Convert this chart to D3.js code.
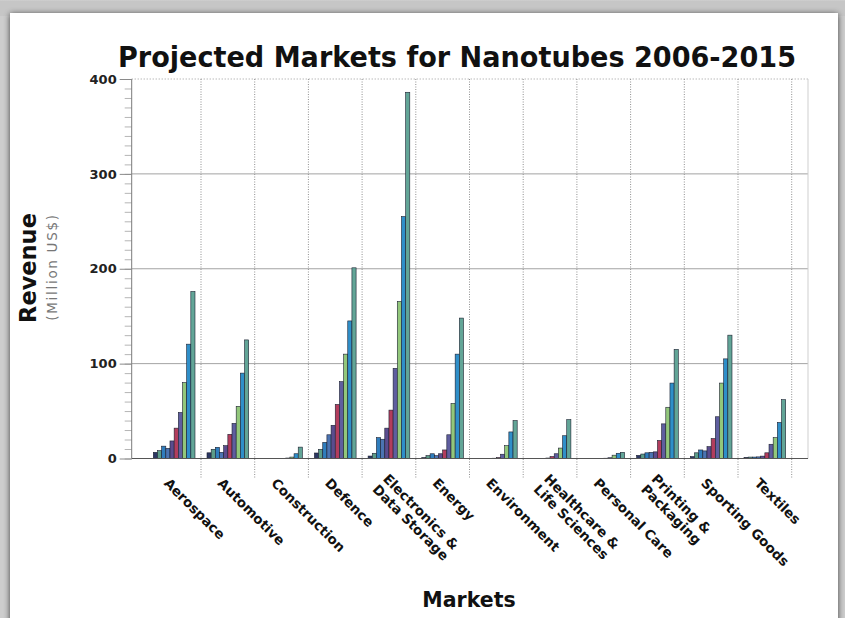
<!DOCTYPE html>
<html>
<head>
<meta charset="utf-8">
<script src="https://cdn.jsdelivr.net/npm/d3@7"></script>
<style>
  html, body { margin: 0; padding: 0; background: #d9d9d9; }
  svg { display: block; }
</style>
</head>
<body>
<script>
// Market categories (line breaks split the long labels)
const categories = [
  "Aerospace", "Automotive", "Construction", "Defence",
  "Electronics &\nData Storage", "Energy", "Environment",
  "Healthcare &\nLife Sciences", "Personal Care",
  "Printing &\nPackaging", "Sporting Goods", "Textiles"
];

// Years shown as the bars inside each market
const years = ["2006", "2007", "2008", "2009", "2010", "2011", "2012", "2013", "2014", "2015"];

// Revenue per market, million US$, one value per year 2006-2015
const aerospace    = [6.5, 8.3, 13, 10.7, 18.5, 32, 48.5, 80, 120.5, 176];
const automotive   = [6, 9.7, 11.8, 6.5, 13.5, 25.5, 37, 55, 90, 125];
const construction = [0, 0, 0, 0, 0, 0, 0.5, 1.5, 5, 12];
const defence      = [5.8, 9.7, 17, 25, 35, 57, 81, 110, 145, 201];
const electronics  = [2.6, 5.5, 22, 20.3, 32, 51, 95, 165.5, 255, 386];
const energy       = [1, 3, 5, 3, 5, 9, 25, 58, 110, 148];
const environment  = [0, 0, 0, 0, 0.3, 1, 4.5, 13.5, 28, 40];
const healthcare   = [0, 0, 0, 0, 0.5, 2, 5, 11, 24, 41];
const personalCare = [0, 0, 0, 0, 0, 0.3, 0.8, 3.5, 5.5, 6.5];
const printing     = [3.3, 4.7, 6, 6.5, 7, 19, 36.5, 54, 79.5, 115];
const sporting     = [2, 6, 9, 8, 12.5, 21, 44, 79.5, 105, 130];
const textiles     = [1.2, 1.5, 1.5, 1.7, 2.5, 6, 15, 22, 38, 62];

const revenueByMarket = [
  aerospace, automotive, construction, defence, electronics, energy,
  environment, healthcare, personalCare, printing, sporting, textiles
];

// Y axis labelled ticks
const yTicks = [0, 100, 200, 300, 400];

// Bar colour per year
const yearColors = [
  "#2c3763", "#5c9c88", "#2f7dbd", "#4b74b2", "#5a4c8e",
  "#b23d5d", "#5f5e9f", "#92c77b", "#2f8fc9", "#62a597"
];

const W = 845, H = 618;
const FONT = "'DejaVu Sans', Verdana, sans-serif";

const svg = d3.select("body").append("svg")
  .attr("width", W).attr("height", H);

// Framed panel with a soft shadow
const defs = svg.append("defs");
const sh = defs.append("filter").attr("id", "shadow")
  .attr("x", "-5%").attr("y", "-5%").attr("width", "110%").attr("height", "110%");
sh.append("feGaussianBlur").attr("in", "SourceAlpha").attr("stdDeviation", 3).attr("result", "b");
sh.append("feOffset").attr("in", "b").attr("dx", 0).attr("dy", 1).attr("result", "o");
sh.append("feComponentTransfer").attr("in", "o").attr("result", "s")
  .append("feFuncA").attr("type", "linear").attr("slope", 0.7);
const mg = sh.append("feMerge");
mg.append("feMergeNode").attr("in", "s");
mg.append("feMergeNode").attr("in", "SourceGraphic");

const topGrad = defs.append("linearGradient").attr("id", "bgGrad")
  .attr("x1", 0).attr("y1", 0).attr("x2", 0).attr("y2", 0.04);
topGrad.append("stop").attr("offset", "0%").attr("stop-color", "#e4e4e4");
topGrad.append("stop").attr("offset", "100%").attr("stop-color", "#c6c6c6");

svg.append("rect").attr("width", W).attr("height", H).attr("fill", "#cdcdcd");
svg.append("rect").attr("width", W).attr("height", 16).attr("fill", "url(#bgGrad)");
svg.append("rect")
  .attr("x", 10).attr("y", 13).attr("width", 828).attr("height", 620)
  .attr("fill", "#ffffff").attr("filter", "url(#shadow)");

// Plot geometry
const plotLeft = 131.7, plotRight = 808;
const yBottom = 458.5, yTop = 79;

const x = d3.scaleBand().domain(categories).range([147.3, 791.7]).padding(0);
const xYear = d3.scaleBand().domain(years).range([0, x.bandwidth()])
  .paddingInner(0).paddingOuter(1.44);
const y = d3.scaleLinear().domain([0, 400]).range([yBottom, yTop]);

const grid = svg.append("g");

// Horizontal grid
grid.selectAll("line.h").data(yTicks.filter(d => d > 0 && d < 400)).join("line")
  .attr("x1", plotLeft).attr("x2", plotRight)
  .attr("y1", d => y(d)).attr("y2", d => y(d))
  .attr("stroke", "#a3a3a3").attr("stroke-width", 1);
grid.append("line")
  .attr("x1", plotLeft).attr("x2", plotRight)
  .attr("y1", y(400)).attr("y2", y(400))
  .attr("stroke", "#9a9a9a").attr("stroke-dasharray", "1,2");

// Right border of the plot
grid.append("line")
  .attr("x1", plotRight).attr("x2", plotRight)
  .attr("y1", yTop).attr("y2", yBottom)
  .attr("stroke", "#cfcfcf");

// Dotted separators between markets, running past the axis as ticks
grid.selectAll("line.v").data(categories).join("line")
  .attr("x1", d => x(d) + x.bandwidth()).attr("x2", d => x(d) + x.bandwidth())
  .attr("y1", yTop).attr("y2", 478)
  .attr("stroke", "#8f8f8f").attr("stroke-dasharray", "1,1.5");

// Bars
const groups = svg.append("g").selectAll("g").data(categories).join("g")
  .attr("transform", d => `translate(${x(d)},0)`);
groups.selectAll("rect")
  .data((c, i) => revenueByMarket[i].map((v, j) => ({ year: years[j], v, j })).filter(d => d.v > 0))
  .join("rect")
  .attr("x", d => xYear(d.year))
  .attr("width", xYear.bandwidth())
  .attr("y", d => y(d.v))
  .attr("height", d => y(0) - y(d.v))
  .attr("fill", d => yearColors[d.j])
  .attr("stroke", "#1c2030")
  .attr("stroke-width", 0.6);

// Minor y ticks
const minor = svg.append("g").attr("transform", `translate(${plotLeft},0)`)
  .call(d3.axisLeft(y).tickValues(d3.range(0, 401, 10)).tickSize(7).tickFormat(""));
minor.select(".domain").remove();
minor.selectAll("line").attr("stroke", "#b5b5b5");

// Major y axis
const yAxis = svg.append("g").attr("transform", `translate(${plotLeft},0)`)
  .call(d3.axisLeft(y).tickValues(yTicks).tickSize(12).tickPadding(3));
yAxis.select(".domain").attr("stroke", "#7a7a7a").attr("d", `M0,${yTop}V${yBottom}`);
yAxis.selectAll(".tick line").attr("stroke", "#8a8a8a");
yAxis.selectAll(".tick text")
  .attr("font-family", FONT).attr("font-size", 13).attr("font-weight", "bold")
  .attr("fill", "#222");

// X axis baseline
svg.append("line")
  .attr("x1", plotLeft).attr("x2", plotRight)
  .attr("y1", yBottom).attr("y2", yBottom)
  .attr("stroke", "#555").attr("stroke-width", 1);

// Rotated market labels
const labels = svg.append("g").selectAll("text").data(categories).join("text")
  .attr("transform", d => `translate(${x(d) + x.bandwidth() / 2 - 11},484) rotate(45)`)
  .attr("font-family", FONT).attr("font-size", 13.5).attr("font-weight", "bold")
  .attr("fill", "#111");
labels.each(function (d) {
  const lines = d.split("\n");
  const t = d3.select(this);
  lines.forEach((ln, k) => {
    t.append("tspan").attr("x", 0)
      .attr("dy", lines.length > 1 ? (k === 0 ? "-0.45em" : "1.1em") : 0)
      .text(ln);
  });
});

// Title
svg.append("text")
  .attr("x", 457).attr("y", 67)
  .attr("text-anchor", "middle")
  .attr("font-family", FONT)
  .attr("font-size", 29).attr("font-weight", "bold").attr("fill", "#111")
  .attr("textLength", 678).attr("lengthAdjust", "spacingAndGlyphs")
  .text("Projected Markets for Nanotubes 2006-2015");

// Y axis titles
svg.append("text")
  .attr("transform", "translate(36,268) rotate(-90)")
  .attr("text-anchor", "middle")
  .attr("font-family", FONT).attr("font-size", 22.5).attr("font-weight", "bold")
  .attr("fill", "#111")
  .text("Revenue");
svg.append("text")
  .attr("transform", "translate(57,267) rotate(-90)")
  .attr("text-anchor", "middle")
  .attr("font-family", FONT).attr("font-size", 13.5)
  .attr("letter-spacing", 1.7)
  .attr("fill", "#777")
  .text("(Million US$)");

// X axis title
svg.append("text")
  .attr("x", 469).attr("y", 607)
  .attr("text-anchor", "middle")
  .attr("font-family", FONT).attr("font-size", 20.5).attr("font-weight", "bold")
  .attr("fill", "#111")
  .text("Markets");
</script>
</body>
</html>
